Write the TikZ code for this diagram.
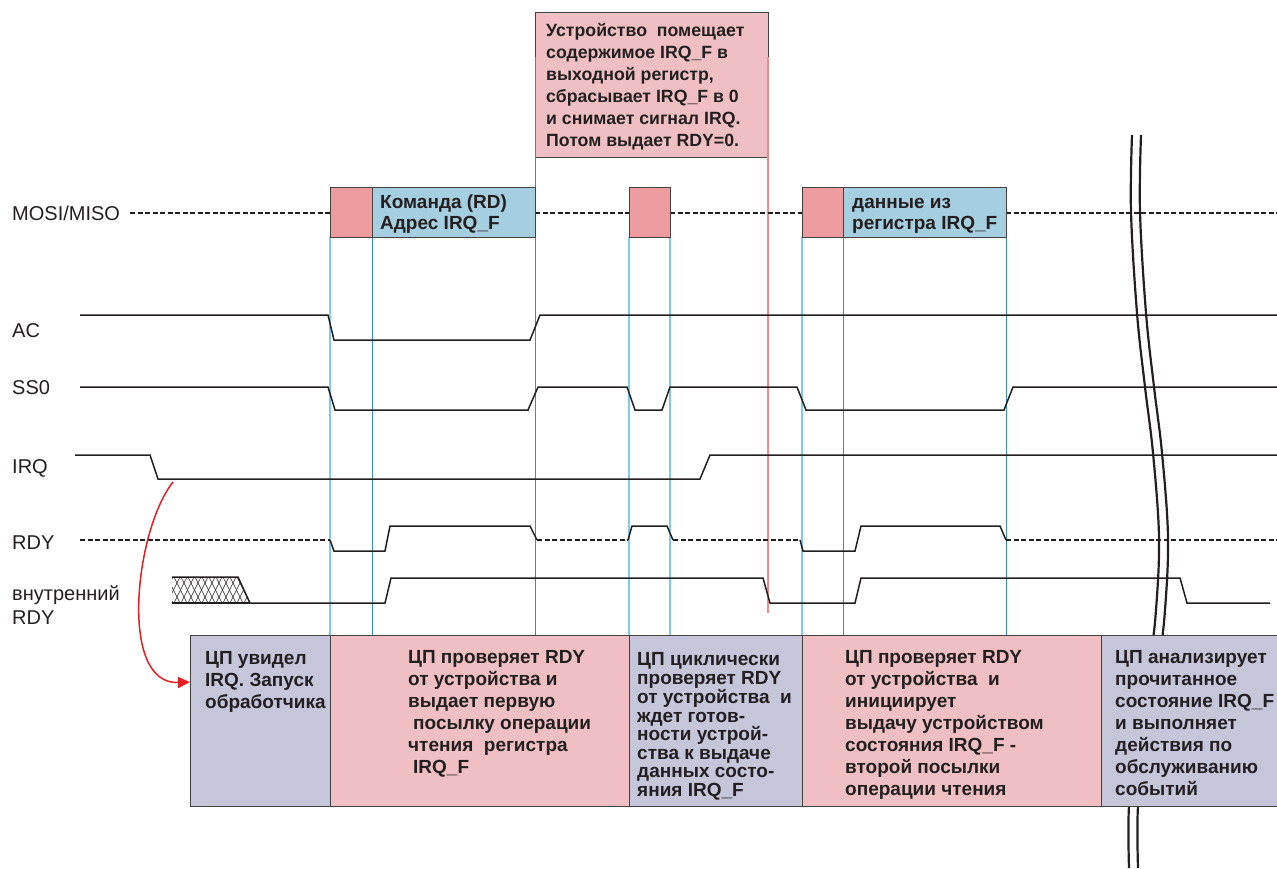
\documentclass[tikz,border=0pt]{standalone}
\usepackage{fontspec}
\setmainfont{Liberation Sans}
\usetikzlibrary{arrows.meta}
\definecolor{lav}{HTML}{C5C6DA}
\definecolor{pinkbg}{HTML}{F0BFC3}
\definecolor{pinkdk}{HTML}{EE9CA0}
\definecolor{bluebx}{HTML}{A5CEE0}
\definecolor{gdl}{HTML}{7FCBEF}
\definecolor{gdd}{HTML}{2E90CE}
\definecolor{redln}{HTML}{EE8C8C}
\definecolor{arrred}{HTML}{E31E24}
\definecolor{ink}{HTML}{231F20}
\begin{document}
\begin{tikzpicture}[x=1pt,y=-1pt,
  box/.style={draw=ink!85, line width=0.9pt, inner sep=0pt, outer sep=0pt, anchor=north west},
  txt/.style={anchor=north west, inner sep=0pt, align=left, font=\fontsize{19}{22}\selectfont\bfseries, text=ink},
  txttight/.style={txt, font=\fontsize{19}{18.6}\selectfont\bfseries},
  txttop/.style={txt, font=\fontsize{17.7}{22}\selectfont\bfseries},
  txtmosi/.style={txt, font=\fontsize{19}{21}\selectfont\bfseries},
  lbl/.style={anchor=west, inner sep=0pt, font=\fontsize{20}{22}\selectfont, text=ink},
  sig/.style={line width=1.5pt, draw=ink, line join=miter},
  dsig/.style={sig, dash pattern=on 5pt off 2.5pt},
  guideL/.style={draw=gdl, line width=1.1pt},
  guideD/.style={draw=gdd, line width=0.7pt},
  brk/.style={draw=ink, line width=2.2pt}
]
\useasboundingbox (0,0) rectangle (1277,868);

% guide lines
\draw[guideL] (330,237) -- (330,635);
\draw[guideD] (372,237) -- (372,635);
\draw[guideL] (629,237) -- (629,635);
\draw[guideL] (670,237) -- (670,635);
\draw[guideL] (802,237) -- (802,635);
\draw[guideD] (843,237) -- (843,635);
\draw[guideD] (1006,237) -- (1006,635);

% top note box
\node[box, fill=pinkbg, minimum width=233, minimum height=145] (topbox) at (535,12) {};
\node[txttop] (toptxt) at (546,21) {\strut Устройство\ \ помещает\\содержимое IRQ\_F в\\выходной регистр,\\сбрасывает IRQ\_F в 0\\и снимает сигнал IRQ.\\Потом выдает RDY=0.};
\draw[guideD] (535,57) -- (535,635);
\draw[draw=redln, line width=1.1pt] (768,57) -- (768,613);

% labels
\node[lbl] (lmosi) at (12,213) {MOSI/MISO};
\node[lbl] (lac) at (12,331) {AC};
\node[lbl] (lss) at (12,388) {SS0};
\node[lbl] (lirq) at (12,468) {IRQ};
\node[lbl] (lrdy) at (12,543) {RDY};
\node[lbl] (lint1) at (12,595) {внутренний};
\node[lbl] (lint2) at (12,618) {RDY};

% MOSI/MISO row
\draw[dsig] (130,213) -- (330,213);
\draw[dsig] (535,213) -- (629,213);
\draw[dsig] (670,213) -- (802,213);
\draw[dsig] (1006,213) -- (1277,213);

\node[box, fill=pinkdk, minimum width=42, minimum height=50] (m1) at (330,187) {};
\node[box, fill=bluebx, minimum width=163, minimum height=50] (m2) at (372,187) {};
\node[box, fill=pinkdk, minimum width=41, minimum height=50] (m3) at (629,187) {};
\node[box, fill=pinkdk, minimum width=41, minimum height=50] (m4) at (802,187) {};
\node[box, fill=bluebx, minimum width=163, minimum height=50] (m5) at (843,187) {};
\node[txtmosi] (m2t) at (380,194) {\strut Команда (RD)\\Адрес IRQ\_F};
\node[txtmosi] (m5t) at (852,194) {\strut данные из\\регистра IRQ\_F};

% signals
\draw[sig] (80,315) -- (328,315) -- (334,340) -- (530,340) -- (540,315) -- (1277,315);
\draw[sig] (80,387) -- (328,387) -- (335,410) -- (528,410) -- (538,387) -- (627,387) -- (635,410) -- (662,410) -- (670,387) -- (797,387) -- (806,410) -- (1004,410) -- (1013,387) -- (1277,387);
\draw[sig] (75,455) -- (150,455) -- (158,479) -- (700,479) -- (710,455) -- (1277,455);
\coordinate (irqpt) at (173,482);
% RDY
\draw[dsig] (80,540) -- (330,540);
\draw[sig] (330,540) -- (334,551) -- (385,551) -- (390,526) -- (530,526) -- (537,540);
\draw[dsig] (537,540) -- (628,540);
\draw[sig] (628,540) -- (632,526) -- (667,526) -- (673,540);
\draw[dsig] (673,540) -- (800,540);
\draw[sig] (800,540) -- (803,551) -- (855,551) -- (861,526) -- (1000,526) -- (1006,540);
\draw[dsig] (1006,540) -- (1277,540);
% internal RDY
\begin{scope}
\clip (172,577) -- (238,577) -- (250,603) -- (172,603) -- cycle;
\foreach \i in {0,...,12} {
  \draw[ink, line width=0.6pt] (160+\i*7,577) -- (173+\i*7,603);
  \draw[ink, line width=0.6pt] (173+\i*7,577) -- (160+\i*7,603);
}
\end{scope}
\draw[sig, line width=1.2pt] (172,603) -- (250,603);
\draw[sig] (172,577) -- (238,577) -- (250,603) -- (385,603) -- (391,578) -- (763,578) -- (770,603) -- (855,603) -- (861,578) -- (1180,578) -- (1187,603) -- (1270,603);

% break mark
\draw[brk] plot[smooth, tension=0.6] coordinates {(1132,135) (1131,212) (1137,313) (1145,387) (1153,453) (1159,537) (1156,610) (1150,660) (1137,740) (1129,806) (1129,868)};
\draw[brk] plot[smooth, tension=0.6] coordinates {(1141,135) (1140,212) (1146,313) (1154,387) (1162,453) (1168,537) (1165,610) (1159,660) (1146,740) (1138,806) (1138,868)};

% bottom boxes
\node[box, fill=lav, minimum width=140, minimum height=171] (b1) at (190,635) {};
\node[box, fill=pinkbg, minimum width=299, minimum height=171] (b2) at (330,635) {};
\node[box, fill=lav, minimum width=173, minimum height=171] (b3) at (629,635) {};
\node[box, fill=pinkbg, minimum width=299, minimum height=171] (b4) at (802,635) {};
\node[box, fill=lav, minimum width=180, minimum height=171] (b5) at (1101,635) {};

\node[txt] (b1t) at (205,649) {\strut ЦП увидел\\IRQ. Запуск\\обработчика};
\node[txt] (b2t) at (408,648) {\strut ЦП проверяет RDY\\от устройства и\\выдает первую\\\hspace{5pt}посылку операции\\чтения\ \ регистра\\\hspace{5pt}IRQ\_F};
\node[txttight] (b3t) at (637,652) {\strut ЦП циклически\\проверяет RDY\\от устройства\ \ и\\ждет готов-\\ности устрой-\\ства к выдаче\\данных состо-\\яния IRQ\_F};
\node[txt] (b4t) at (845,648) {\strut ЦП проверяет RDY\\от устройства\ \ и\\инициирует\\выдачу устройством\\состояния IRQ\_F -\\второй посылки\\операции чтения};
\node[txt] (b5t) at (1115,648) {\strut ЦП анализирует\\прочитанное\\состояние IRQ\_F\\и выполняет\\действия по\\обслуживанию\\событий};

% red arrow
\draw[draw=arrred, line width=1.5pt, -{Triangle[length=12pt,width=11pt]}] (irqpt) .. controls (135,530) and (118,685) .. (b1.west |- 0,682);
\end{tikzpicture}
\end{document}
